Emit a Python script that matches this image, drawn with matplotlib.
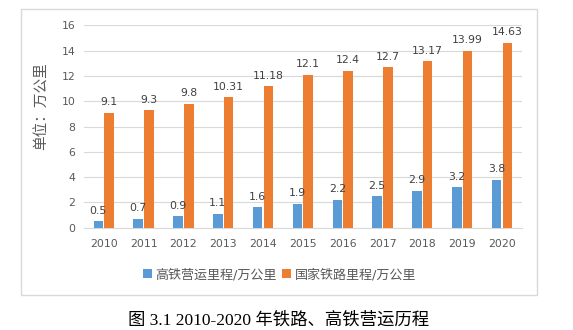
import numpy as np
import matplotlib
matplotlib.use("Agg")
import matplotlib.pyplot as plt
from matplotlib.patches import Rectangle

plt.rcParams['font.family'] = ['DejaVu Sans', 'Noto Sans CJK SC']

years = ['2010', '2011', '2012', '2013', '2014', '2015', '2016', '2017', '2018', '2019', '2020']
hsr = [0.5, 0.7, 0.9, 1.1, 1.6, 1.9, 2.2, 2.5, 2.9, 3.2, 3.8]
rail = [9.1, 9.3, 9.8, 10.31, 11.18, 12.1, 12.4, 12.7, 13.17, 13.99, 14.63]
hsr_name = '高铁营运里程/万公里'
rail_name = '国家铁路里程/万公里'
ylabel = '单位：万公里'
caption = '图 3.1 2010-2020 年铁路、高铁营运历程'

blue = '#5B9BD5'
orange = '#ED7D31'
grey_txt = '#595959'
grid_c = '#D9D9D9'

fig = plt.figure(figsize=(5.73, 3.3), dpi=100)
ax = fig.add_axes([0.1463, 0.310, 0.7645, 0.613])

x = np.arange(len(years))
w = 0.24
b1 = ax.bar(x - 0.135, hsr, w, color=blue, label=hsr_name, zorder=3)
b2 = ax.bar(x + 0.135, rail, w, color=orange, label=rail_name, zorder=3)
ax.bar_label(b1, labels=[str(v) for v in hsr], padding=4, fontsize=7.8, color='#404040')
ax.bar_label(b2, labels=[str(v) for v in rail], padding=4, fontsize=7.8, color='#404040')

ax.set_xlim(-0.5, len(years) - 0.5)
ax.set_ylim(0, 16)
ax.set_yticks(range(0, 17, 2))
ax.set_xticks(x)
ax.set_xticklabels(years)
ax.tick_params(axis='both', length=0, labelsize=7.8, colors=grey_txt)
ax.tick_params(axis='x', pad=8)
ax.tick_params(axis='y', pad=6)
ax.grid(axis='y', color=grid_c, linewidth=0.8, zorder=0)
for s in ['top', 'right', 'left']:
    ax.spines[s].set_visible(False)
ax.spines['bottom'].set_color(grid_c)
ax.spines['bottom'].set_linewidth(0.8)

ax.set_ylabel(ylabel, fontsize=10.5, color=grey_txt)
ax.yaxis.set_label_coords(-0.08, 0.6)

fig.legend(handles=[b1, b2], loc='center', bbox_to_anchor=(0.488, 0.167), ncol=2,
           frameon=False, fontsize=9.4, labelcolor=grey_txt, handlelength=0.7,
           handleheight=0.7, handletextpad=0.3, columnspacing=0.4)

fig.patches.append(Rectangle((0.0366, 0.106), 0.9005, 0.8667, transform=fig.transFigure,
                             fill=False, edgecolor=grid_c, linewidth=1))

fig.text(0.487, 0.03, caption, ha='center', va='center', fontsize=12.5,
         family=['Liberation Serif', 'Noto Sans CJK SC'], color='black')

fig.savefig('out.png', dpi=100)
